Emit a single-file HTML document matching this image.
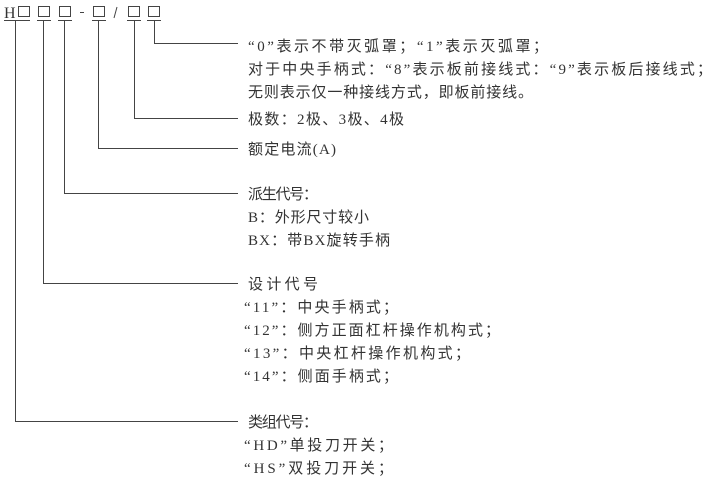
<!DOCTYPE html>
<html><head><meta charset="utf-8"><style>
html,body{margin:0;padding:0;background:#fff;}
svg{display:block}
text{font-family:"Liberation Serif","Noto Sans CJK SC",serif;font-size:15px;fill:#333;}
</style></head><body>
<svg width="720" height="480" viewBox="0 0 720 480">
<g fill="none" stroke="#444" stroke-width="1">
<rect x="18.5" y="6.5" width="11" height="10"/>
<rect x="38.5" y="6.5" width="11" height="10"/>
<rect x="59.5" y="6.5" width="11" height="10"/>
<rect x="93.5" y="6.5" width="11" height="10"/>
<rect x="128.5" y="6.5" width="11" height="10"/>
<rect x="148.5" y="6.5" width="11" height="10"/>
<path d="M4 20.5H30M37 20.5H51M58 20.5H72M92 20.5H106M127 20.5H141M147 20.5H161"/>
<path d="M80 12.5H84M117 7L114 18"/>
<path d="M154.5 20V43.5H238"/>
<path d="M134.5 20V118.5H238"/>
<path d="M98.5 20V148.5H238"/>
<path d="M64.5 20V193.5H238"/>
<path d="M43.5 20V283.5H238"/>
<path d="M15.5 20V421.5H238"/>
</g>
<text x="4" y="18" style="font-size:16px">H</text>
<text x="248" y="51" textLength="300" lengthAdjust="spacing">“0”表示不带灭弧罩；“1”表示灭弧罩；</text>
<text x="248" y="74" textLength="464" lengthAdjust="spacing">对于中央手柄式：“8”表示板前接线式：“9”表示板后接线式；</text>
<text x="248" y="97" textLength="285" lengthAdjust="spacing">无则表示仅一种接线方式，即板前接线。</text>
<text x="248" y="124" textLength="156" lengthAdjust="spacing">极数：2极、3极、4极</text>
<text x="248" y="154" textLength="88" lengthAdjust="spacing">额定电流(A)</text>
<text x="248" y="199" textLength="70" lengthAdjust="spacing">派生代号：</text>
<text x="248" y="222" textLength="121" lengthAdjust="spacing">B：外形尺寸较小</text>
<text x="248" y="245" textLength="142" lengthAdjust="spacing">BX：带BX旋转手柄</text>
<text x="248" y="289" textLength="70" lengthAdjust="spacing">设计代号</text>
<text x="244" y="312" textLength="154" lengthAdjust="spacing">“11”：中央手柄式；</text>
<text x="244" y="335" textLength="256" lengthAdjust="spacing">“12”：侧方正面杠杆操作机构式；</text>
<text x="244" y="358" textLength="226" lengthAdjust="spacing">“13”：中央杠杆操作机构式；</text>
<text x="244" y="381" textLength="154" lengthAdjust="spacing">“14”：侧面手柄式；</text>
<text x="248" y="427" textLength="70" lengthAdjust="spacing">类组代号：</text>
<text x="244" y="450" textLength="149" lengthAdjust="spacing">“HD”单投刀开关；</text>
<text x="244" y="473" textLength="149" lengthAdjust="spacing">“HS”双投刀开关；</text>
</svg>
</body></html>
